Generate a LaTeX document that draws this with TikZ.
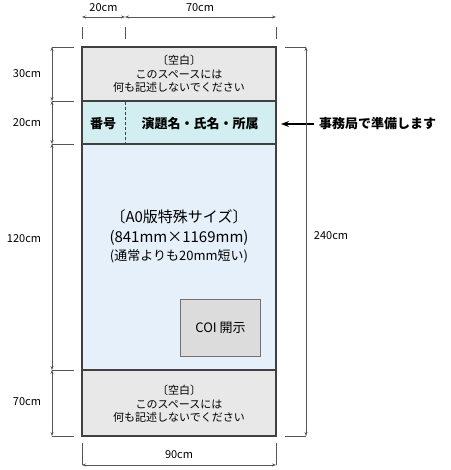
\documentclass[tikz,border=0pt]{standalone}
\usepackage{fontspec}
\setmainfont{Noto Sans CJK JP}
\usetikzlibrary{arrows.meta}
\definecolor{blankgray}{HTML}{E8E8E8}
\definecolor{bandteal}{HTML}{D2EEF0}
\definecolor{bodyblue}{HTML}{E6F0FA}
\definecolor{coigray}{HTML}{DCDCDC}
\definecolor{edgegray}{HTML}{404040}
\definecolor{dimgray}{HTML}{555555}
\tikzset{
  block/.style={draw=edgegray, line width=2pt, inner sep=0pt, outer sep=0pt, anchor=north west, minimum width=194pt},
  dimline/.style={draw=dimgray, line width=0.8pt, {Stealth[length=4pt,width=3pt]}-{Stealth[length=4pt,width=3pt]}},
  extline/.style={draw=dimgray, line width=0.8pt},
  dimlabel/.style={font=\fontsize{11}{13}\selectfont, text=black, inner sep=0pt},
  blanktext/.style={font=\fontsize{11}{13.5}\selectfont, align=center, inner sep=0pt},
}
\begin{document}
\begin{tikzpicture}[x=1pt,y=-1pt]
\useasboundingbox (0,0) rectangle (450,470);
% blocks
\node[block, fill=blankgray, minimum height=54pt] (top) at (82,47) {};
\node[block, fill=bandteal, minimum height=43pt] (band) at (82,101) {};
\node[block, fill=bodyblue, minimum height=226pt] (body) at (82,144) {};
\node[block, fill=blankgray, minimum height=66pt] (bottom) at (82,370) {};
\draw[edgegray, line width=2pt] (82,47) rectangle (276,436);
% dashed separator
\coordinate (dsA) at (125,102);
\coordinate (dsB) at (125,143);
\draw[edgegray, dashed, line width=0.8pt, dash pattern=on 3pt off 2pt] (dsA) -- (dsB);
% texts
\node[blanktext] (toptext) at (179,74) {〔空白〕\\このスペースには\\何も記述しないでください};
\node[blanktext] (bottomtext) at (179,404) {〔空白〕\\このスペースには\\何も記述しないでください};
\node[font=\fontsize{13}{15}\selectfont\bfseries, inner sep=0pt] (num) at (103,124) {番号};
\node[font=\fontsize{13}{15}\selectfont\bfseries, inner sep=0pt] (title) at (200,124) {演題名・氏名・所属};
\node[font=\fontsize{15}{21}\selectfont, align=center, inner sep=0pt] (sz1) at (179,217) {〔A0版特殊サイズ〕};
\node[font=\fontsize{15}{21}\selectfont, inner sep=0pt] (sz2) at (179,238) {(841mm×1169mm)};
\node[font=\fontsize{13}{15}\selectfont, inner sep=0pt] (sz3) at (179,256) {(通常よりも20mm短い)};
% COI
\node[draw=black!55, fill=coigray, line width=1pt, minimum width=80pt, minimum height=57pt, inner sep=0pt, anchor=north west] (coi) at (180,299) {};
\node[font=\fontsize{13}{15}\selectfont, inner sep=0pt] (coitext) at (coi.center) {COI 開示};
% arrow note
\node[font=\fontsize{13}{15}\selectfont\bfseries, anchor=west, inner sep=0pt] (note) at (319,124) {事務局で準備します};
\coordinate (arrowTip) at (281,124);
\draw[black, line width=1.2pt, -{Stealth[length=8pt,width=6pt]}] (note.west) ++(-5,0) coordinate (arrowStart) -- (arrowTip);
% top dimensions
\coordinate (tA) at (82,17); \coordinate (tB) at (125,17); \coordinate (tC) at (276,17);
\draw[extline] (82,27) -- (82,39);
\draw[extline] (125,27) -- (125,39);
\draw[extline] (276,27) -- (276,39);
\draw[dimline] (tA) -- (tB);
\draw[dimline] (tB) -- (tC);
\node[dimlabel] (d20t) at (103.5,8) {20cm};
\node[dimlabel] (d70t) at (200,8) {70cm};
% left dimensions
\coordinate (l1) at (52,47); \coordinate (l2) at (52,101); \coordinate (l3) at (52,144);
\coordinate (l4) at (52,370); \coordinate (l5) at (52,436);
\foreach \yy in {47,101,144,370,436} \draw[extline] (52,\yy) -- (74,\yy);
\draw[dimline] (l1) -- (l2);
\draw[dimline] (l2) -- (l3);
\draw[dimline] (l3) -- (l4);
\draw[dimline] (l4) -- (l5);
\node[dimlabel] (d30) at (27,74) {30cm};
\node[dimlabel] (d20l) at (27,123) {20cm};
\node[dimlabel] (d120) at (24,239) {120cm};
\node[dimlabel] (d70l) at (27,402) {70cm};
% right dimension
\coordinate (r1) at (306,47); \coordinate (r2) at (306,436);
\draw[extline] (285,47) -- (306,47);
\draw[extline] (285,436) -- (306,436);
\draw[dimline] (r1) -- (r2);
\node[dimlabel] (d240) at (331,236) {240cm};
% bottom dimension
\coordinate (b1) at (82,465); \coordinate (b2) at (276,465);
\draw[extline] (82,443) -- (82,465);
\draw[extline] (276,443) -- (276,465);
\draw[dimline] (b1) -- (b2);
\node[dimlabel] (d90) at (179,455) {90cm};
\end{tikzpicture}
\end{document}
